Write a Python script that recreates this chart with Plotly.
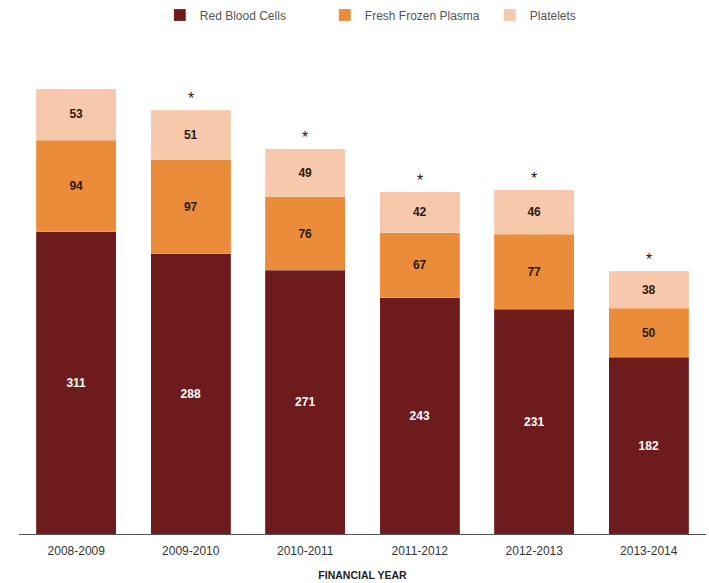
import plotly.graph_objects as go

years = ["2008-2009", "2009-2010", "2010-2011", "2011-2012", "2012-2013", "2013-2014"]
rbc = [311, 288, 271, 243, 231, 182]
ffp = [94, 97, 76, 67, 77, 50]
plt_ = [53, 51, 49, 42, 46, 38]
stars = ["", "*", "*", "*", "*", "*"]

line = dict(color="rgba(255,255,255,0.35)", width=0.5)
fig = go.Figure()
fig.add_trace(go.Bar(x=years, y=rbc, name="Red Blood Cells", marker_color="#6e1b1d",
                     marker_line=line, text=[f"<b>{v}</b>" for v in rbc],
                     textposition="inside", insidetextanchor="middle",
                     textfont=dict(color="white", size=12, family="Liberation Sans")))
fig.add_trace(go.Bar(x=years, y=ffp, name="Fresh Frozen Plasma", marker_color="#ea8c3a",
                     marker_line=line, text=[f"<b>{v}</b>" for v in ffp],
                     textposition="inside", insidetextanchor="middle",
                     textfont=dict(color="#2a1a10", size=12, family="Liberation Sans")))
fig.add_trace(go.Bar(x=years, y=plt_, name="Platelets", marker_color="#f7c8ab",
                     marker_line=line, text=[f"<b>{v}</b>" for v in plt_],
                     textposition="inside", insidetextanchor="middle",
                     textfont=dict(color="#2a1a10", size=12, family="Liberation Sans")))

for i, y in enumerate(years):
    if stars[i]:
        total = rbc[i] + ffp[i] + plt_[i]
        fig.add_annotation(x=y, y=total, text=stars[i], showarrow=False,
                           yanchor="bottom", yshift=1,
                           font=dict(size=16, color="#222", family="Liberation Sans"))

fig.update_layout(
    width=709, height=583,
    barmode="stack", bargap=0.3,
    plot_bgcolor="white", paper_bgcolor="white",
    margin=dict(l=19, r=3, t=40, b=49, autoexpand=False),
    font=dict(family="Liberation Sans", size=12, color="#333"),
    uniformtext=dict(minsize=8, mode="show"),
    legend=dict(orientation="h", x=0.205, xanchor="left", y=1.0506, yanchor="middle",
                font=dict(size=12, color="#555"), entrywidth=120, entrywidthmode="pixels",
                itemwidth=30, traceorder="normal"),
)
fig.update_xaxes(showline=True, linecolor="#555", linewidth=1, ticks="", automargin=False,
                 tickfont=dict(size=12, color="#333"), ticklabelstandoff=6,
                 title=dict(text="<b>FINANCIAL YEAR</b>", font=dict(size=10.5, color="#222"), standoff=14))
fig.update_yaxes(range=[0, 508], showticklabels=False, showgrid=False, zeroline=False, automargin=False)

fig.write_html("out.html", config={"displayModeBar": False},
               post_script="document.body.style.margin='0';document.body.style.overflow='hidden';")
